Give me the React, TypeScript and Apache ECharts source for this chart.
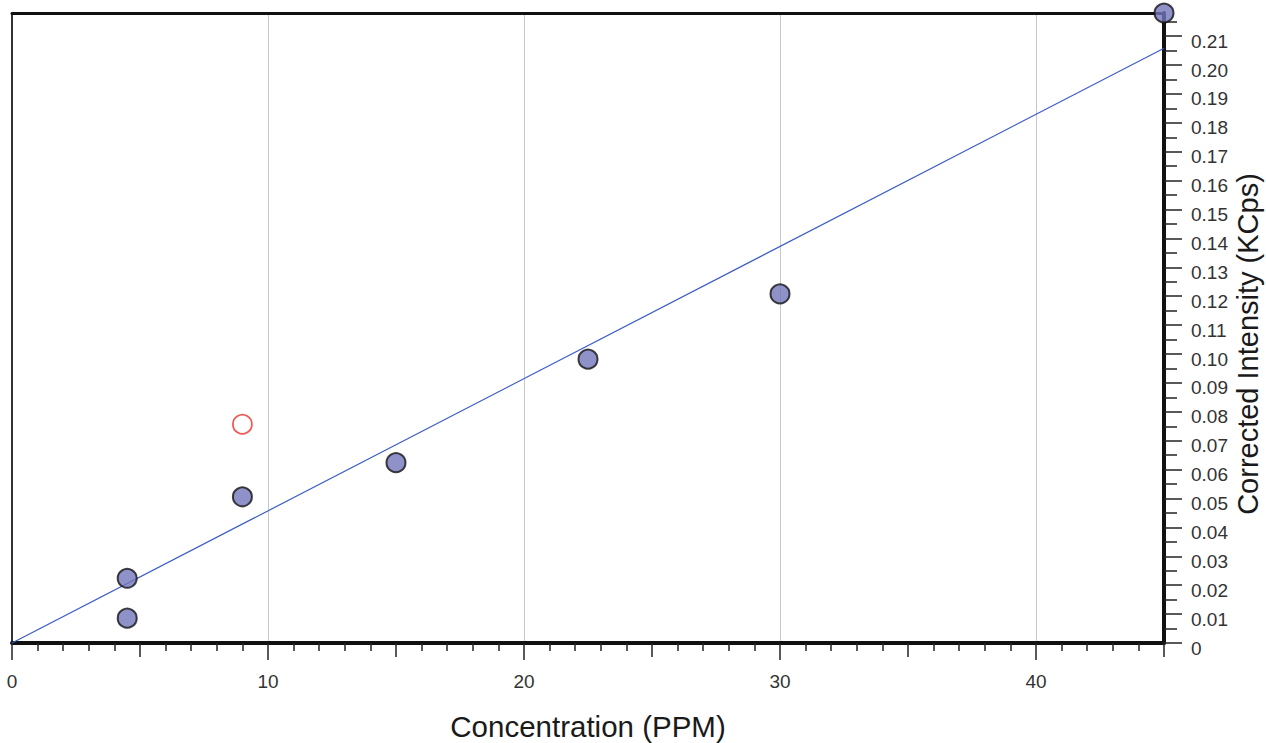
import React, { useEffect, useRef } from "react";
import * as echarts from "echarts";

// Calibration standards: concentration (PPM) vs corrected intensity (KCps)
const concentration = [4.5, 4.5, 9, 15, 22.5, 30, 45];
const intensity = [0.0224, 0.0086, 0.0506, 0.0624, 0.0982, 0.1208, 0.218];

// Standard excluded from the fit
const excludedConcentration = [9];
const excludedIntensity = [0.0757];

// Calibration line end points
const fitConcentration = [0, 45];
const fitIntensity = [0, 0.2058];

// Axis extents and tick labels
const X_MAX = 45;
const Y_MAX = 0.218;
const xTickLabels = [0, 10, 20, 30, 40];
const xMidTicks = [5, 15, 25, 35, 45];
const yTickLabels = [
  0, 0.01, 0.02, 0.03, 0.04, 0.05, 0.06, 0.07, 0.08, 0.09, 0.1, 0.11, 0.12,
  0.13, 0.14, 0.15, 0.16, 0.17, 0.18, 0.19, 0.2, 0.21,
];
const Y_TITLE = "Corrected Intensity (KCps)";

const xMinorTicks: number[] = [];
for (let v = 1; v < X_MAX; v++) if (v % 5 !== 0) xMinorTicks.push(v);
const yMinorTicks = yTickLabels.map((v) => Math.round((v + 0.005) * 1000) / 1000);

const FONT = "'Liberation Sans', Arial, Helvetica, sans-serif";
const TICK = { color: "#222", width: 1.5 };

export default function App() {
  const ref = useRef<HTMLDivElement>(null);

  useEffect(() => {
    if (!ref.current) return;
    const chart = echarts.init(ref.current, undefined, { renderer: "svg" });

    const hiddenX = (ticks: number[], length: number) => ({
      type: "value",
      position: "bottom",
      min: 0,
      max: X_MAX,
      axisLine: { show: false, onZero: false },
      axisTick: { show: true, customValues: ticks, length, lineStyle: TICK },
      axisLabel: { show: false },
      splitLine: { show: false },
    });
    const hiddenY = (ticks: number[], length: number) => ({
      type: "value",
      position: "right",
      min: 0,
      max: Y_MAX,
      axisLine: { show: false, onZero: false },
      axisTick: { show: true, customValues: ticks, length, lineStyle: TICK },
      axisLabel: { show: false },
      splitLine: { show: false },
    });

    chart.setOption({
      animation: false,
      backgroundColor: "#ffffff",
      grid: {
        left: 12,
        right: 102,
        top: 13,
        bottom: 100,
        containLabel: false,
        outerBoundsMode: "none",
      },
      // Vertical title beside the right-hand intensity axis
      graphic: [
        {
          type: "text",
          x: 1248,
          y: 344,
          rotation: Math.PI / 2,
          style: {
            text: Y_TITLE,
            fontFamily: FONT,
            fontSize: 29,
            fill: "#1a1a1a",
            align: "center",
            verticalAlign: "middle",
          },
        },
      ],
      xAxis: [
        {
          type: "value",
          position: "bottom",
          min: 0,
          max: X_MAX,
          interval: 10,
          name: "Concentration (PPM)",
          nameLocation: "middle",
          nameGap: 68,
          nameTextStyle: { fontFamily: FONT, fontSize: 29.5, color: "#1a1a1a" },
          axisLine: { show: true, onZero: false, lineStyle: { color: "#111", width: 4 } },
          axisTick: { show: true, customValues: xTickLabels, length: 17, lineStyle: TICK },
          axisLabel: {
            customValues: xTickLabels,
            margin: 29,
            fontFamily: FONT,
            fontSize: 19,
            color: "#333",
          },
          splitLine: { show: true, lineStyle: { color: "#c8c8c8", width: 1 } },
        },
        hiddenX(xMidTicks, 14),
        hiddenX(xMinorTicks, 8),
        {
          type: "value",
          position: "top",
          min: 0,
          max: X_MAX,
          axisLine: { show: true, onZero: false, lineStyle: { color: "#111", width: 3 } },
          axisTick: { show: false },
          axisLabel: { show: false },
          splitLine: { show: false },
        },
      ],
      yAxis: [
        {
          type: "value",
          position: "right",
          min: 0,
          max: Y_MAX,
          interval: 0.01,
          axisLine: { show: true, onZero: false, lineStyle: { color: "#111", width: 4 } },
          axisTick: { show: true, customValues: yTickLabels, length: 18, lineStyle: TICK },
          axisLabel: {
            customValues: yTickLabels,
            margin: 27,
            fontFamily: FONT,
            fontSize: 19,
            color: "#333",
            verticalAlign: "top",
            lineHeight: 10,
            formatter: (v: number) => (v === 0 ? "0" : v.toFixed(2)),
          },
          splitLine: { show: false },
        },
        hiddenY(yMinorTicks, 13),
        {
          type: "value",
          position: "left",
          min: 0,
          max: Y_MAX,
          axisLine: { show: true, onZero: false, lineStyle: { color: "#333", width: 2 } },
          axisTick: { show: false },
          axisLabel: { show: false },
          splitLine: { show: false },
        },
      ],
      series: [
        {
          type: "line",
          xAxisIndex: 0,
          yAxisIndex: 0,
          data: fitConcentration.map((x, i) => [x, fitIntensity[i]]),
          symbol: "none",
          lineStyle: { color: "#3b5cc4", width: 1.2 },
          z: 2,
          silent: true,
        },
        {
          type: "scatter",
          xAxisIndex: 0,
          yAxisIndex: 0,
          data: excludedConcentration.map((x, i) => [x, excludedIntensity[i]]),
          symbol: "circle",
          symbolSize: 19,
          clip: false,
          itemStyle: { color: "rgba(255,255,255,0)", borderColor: "#e8322a", borderWidth: 1.8 },
          z: 3,
        },
        {
          type: "scatter",
          xAxisIndex: 0,
          yAxisIndex: 0,
          data: concentration.map((x, i) => [x, intensity[i]]),
          symbol: "circle",
          symbolSize: 19,
          clip: false,
          itemStyle: { color: "#7376bb", borderColor: "#111", borderWidth: 2 },
          z: 4,
        },
      ],
    });

    return () => chart.dispose();
  }, []);

  return (
    <div
      ref={ref}
      style={{ position: "fixed", left: 0, top: 0, width: 1266, height: 743, background: "#fff" }}
    />
  );
}
